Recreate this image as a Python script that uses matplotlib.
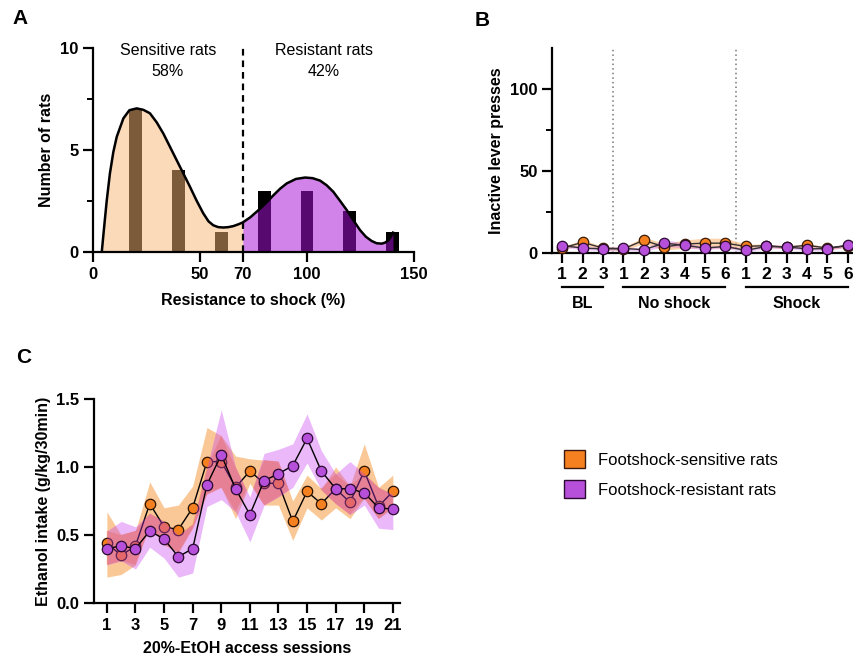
import matplotlib
matplotlib.use("Agg")
import matplotlib.pyplot as plt
from matplotlib.patches import Patch
from matplotlib.ticker import MultipleLocator

plt.rcParams['font.family'] = ['Liberation Sans', 'DejaVu Sans']

# ---- panel A data ----
binCenters = [20, 40, 60, 80, 100, 120, 140]
binCounts = [7, 4, 1, 3, 3, 2, 1]
curveX = [4.1, 5, 6.4, 7.9, 9.5, 11.1, 14.2, 17, 20.4, 23.5, 26.6, 29.8, 32.9, 36, 39.1,
          42.2, 45.3, 48.4, 51.5, 54, 56.2, 58.5, 60.9, 63.3, 65.6, 68, 70, 73.5, 77.3,
          80.8, 84.3, 87.4, 90.5, 94.8, 99.1, 102.6, 106.1, 109.2, 112.3, 115.5, 118.6,
          121.7, 124.8, 127.5, 130.2, 132.5, 134.9, 136.5, 138, 139.2, 140.2]
curveY = [0, 1.0, 2.5, 3.85, 4.9, 5.65, 6.55, 6.95, 7.04, 6.97, 6.8, 6.35, 5.8, 5.15, 4.5,
          3.85, 3.2, 2.52, 1.9, 1.5, 1.31, 1.22, 1.2, 1.22, 1.27, 1.36, 1.45, 1.7, 2.05,
          2.4, 2.78, 3.1, 3.36, 3.58, 3.65, 3.62, 3.5, 3.27, 2.95, 2.5, 2.05,
          1.55, 1.07, 0.75, 0.54, 0.43, 0.41, 0.46, 0.57, 0.75, 0.95]
cutoff = 70

# ---- panel B data ----
sessLabels = ['1', '2', '3', '1', '2', '3', '4', '5', '6', '1', '2', '3', '4', '5', '6']
groupNames = ['BL', 'No shock', 'Shock']
groupSpans = [(1, 3), (4, 9), (10, 15)]
inactSens = [3, 6.5, 3, 2.5, 7.8, 3.7, 5.5, 6, 6, 4, 4.5, 3.5, 4.7, 3, 4.5]
inactSensErr = [1, 1.5, 1, 1, 2, 2, 2.5, 3, 3, 1.5, 1, 1, 1, 1, 1]
inactRes = [4.5, 3, 2.5, 2.8, 2, 6, 4.7, 3, 4, 1.6, 4, 3.7, 2.5, 2.7, 4.7]
inactResErr = [1, 1, 1, 1, 1, 2, 1.5, 1, 1, 1, 1, 1, 1, 1, 1]

# ---- panel C data ----
sessions = list(range(1, 22))
sensMean = [0.44, 0.35, 0.42, 0.73, 0.56, 0.54, 0.70, 1.04, 1.04, 0.85, 0.97,
            0.88, 0.88, 0.60, 0.82, 0.73, 0.84, 0.74, 0.97, 0.71, 0.82]
sensUp = [0.67, 0.50, 0.53, 0.89, 0.70, 0.72, 0.86, 1.29, 1.23, 1.08, 1.06,
          1.05, 1.04, 0.75, 0.94, 0.84, 1.00, 0.86, 1.17, 0.85, 0.94]
sensLow = [0.19, 0.21, 0.28, 0.57, 0.43, 0.37, 0.55, 0.80, 0.85, 0.62, 0.88,
           0.72, 0.72, 0.46, 0.70, 0.61, 0.70, 0.62, 0.77, 0.62, 0.70]
resMean = [0.40, 0.42, 0.40, 0.53, 0.47, 0.34, 0.40, 0.87, 1.09, 0.84, 0.65,
           0.90, 0.95, 1.01, 1.21, 0.97, 0.84, 0.84, 0.81, 0.70, 0.69]
resUp = [0.53, 0.60, 0.56, 0.66, 0.60, 0.50, 0.58, 1.00, 1.42, 1.00, 0.78,
         1.10, 1.13, 1.17, 1.39, 1.12, 0.95, 1.04, 0.95, 0.85, 0.80]
resLow = [0.28, 0.31, 0.25, 0.41, 0.33, 0.19, 0.22, 0.71, 0.76, 0.67, 0.45,
          0.72, 0.78, 0.85, 1.03, 0.83, 0.73, 0.65, 0.72, 0.55, 0.54]

orange = '#F5801F'
purple = '#B64FDA'

def styleAxes(ax):
    for s in ['top', 'right']:
        ax.spines[s].set_visible(False)
    for s in ['left', 'bottom']:
        ax.spines[s].set_linewidth(1.6)
    ax.tick_params(width=1.6, length=7, labelsize=12, direction='out')
    ax.tick_params(which='minor', width=1.4, length=4)
    for lab in ax.get_xticklabels() + ax.get_yticklabels():
        lab.set_fontweight('bold')

fig = plt.figure(figsize=(8.54, 6.59), dpi=100)

# ================= A =================
axA = fig.add_axes([93/854, 1-252/659, 321/854, 204/659])
axA.bar(binCenters, binCounts, width=6, color='black', zorder=1)
sx = [x for x in curveX if x <= cutoff]
sy = curveY[:len(sx)]
rx = [x for x in curveX if x >= cutoff]
ry = curveY[len(curveX)-len(rx):]
axA.fill_between(sx, 0, sy, color='#F8B676', alpha=0.5, lw=0, zorder=2)
axA.fill_between(rx, 0, ry, color='#A812D8', alpha=0.52, lw=0, zorder=2)
axA.plot(curveX, curveY, color='black', lw=1.8, zorder=3)
axA.plot([cutoff, cutoff], [0, 10], color='black', lw=1.6, ls=(0, (3, 2.2)), zorder=4)
axA.set_xlim(0, 150)
axA.set_ylim(0, 10)
axA.set_xticks([0, 50, 70, 100, 150])
axA.set_yticks([0, 5, 10])
axA.yaxis.set_minor_locator(MultipleLocator(2.5))
axA.text(35, 9.35, 'Sensitive rats\n58%', ha='center', va='center', fontsize=11.5, linespacing=1.5)
axA.text(108, 9.35, 'Resistant rats\n42%', ha='center', va='center', fontsize=11.5, linespacing=1.5)
axA.set_xlabel('Resistance to shock (%)', fontsize=11.5, fontweight='bold', labelpad=8)
axA.set_ylabel('Number of rats', fontsize=11.5, fontweight='bold', labelpad=4)
styleAxes(axA)

# ================= B =================
axB = fig.add_axes([552/854, 1-253/659, 304/854, 205/659])
xB = list(range(1, 16))
axB.fill_between(xB, [m - e for m, e in zip(inactSens, inactSensErr)],
                 [m + e for m, e in zip(inactSens, inactSensErr)], color='#F8B676', alpha=0.6, lw=0, zorder=1)
axB.fill_between(xB, [m - e for m, e in zip(inactRes, inactResErr)],
                 [m + e for m, e in zip(inactRes, inactResErr)], color='#C83CF0', alpha=0.3, lw=0, zorder=1)
axB.plot(xB, inactSens, color='#333333', lw=1.0, marker='o', ms=7.5, mfc=orange, mec='#3a1a00',
         mew=0.9, zorder=3, clip_on=False)
axB.plot(xB, inactRes, color='#333333', lw=1.0, marker='o', ms=7.5, mfc=purple, mec='#2a0a30',
         mew=0.9, zorder=4, clip_on=False)
axB.axvline(3.5, color='#777777', lw=1.1, ls=(0, (1, 2)), zorder=0)
axB.axvline(9.5, color='#777777', lw=1.1, ls=(0, (1, 2)), zorder=0)
axB.set_xlim(0.5, 15.4)
axB.set_ylim(0, 125)
axB.set_yticks([0, 50, 100])
axB.set_yticks([25, 75], minor=True)
axB.set_xticks(xB)
axB.set_xticklabels(sessLabels)
axB.set_ylabel('Inactive lever presses', fontsize=11.5, fontweight='bold', labelpad=4)
styleAxes(axB)
axB.tick_params(axis='x', labelsize=12.5, pad=3)
trans = axB.get_xaxis_transform()
for name, (a, b) in zip(groupNames, groupSpans):
    axB.plot([a, b], [-0.168, -0.168], color='black', lw=1.6, transform=trans, clip_on=False)
    axB.text((a + b) / 2, -0.245, name, transform=trans, ha='center', va='center',
             fontsize=11.5, fontweight='bold')

# ================= C =================
axC = fig.add_axes([94/854, 56/659, 306/854, 204/659])
axC.fill_between(sessions, sensLow, sensUp, color='#FAC896', lw=0, zorder=1)
# overlap of the two SEM bands, tinted so it reads red-pink under the purple band
ovLow = [max(a, b) for a, b in zip(sensLow, resLow)]
ovUp = [min(a, b) for a, b in zip(sensUp, resUp)]
axC.fill_between(sessions, ovLow, ovUp, where=[u > l for u, l in zip(ovUp, ovLow)],
                 interpolate=True, color='#F7A963', lw=0, zorder=1.5)
axC.plot(sessions, sensMean, color='black', lw=1.0, marker='o', ms=7.5, mfc=orange,
         mec='#2a1200', mew=0.9, zorder=2)
axC.fill_between(sessions, resLow, resUp, color='#C83CF0', alpha=0.36, lw=0, zorder=3)
axC.plot(sessions, resMean, color='black', lw=1.0, marker='o', ms=7.5, mfc=purple,
         mec='#2a0a30', mew=0.9, zorder=4)
axC.set_xlim(0.1, 21.5)
axC.set_ylim(0, 1.5)
axC.set_xticks(list(range(1, 22, 2)))
axC.set_yticks([0, 0.5, 1.0, 1.5])
axC.yaxis.set_major_formatter(plt.FormatStrFormatter('%.1f'))
axC.set_xlabel('20%-EtOH access sessions', fontsize=11.5, fontweight='bold', labelpad=6)
axC.set_ylabel('Ethanol intake (g/kg/30min)', fontsize=11.5, fontweight='bold', labelpad=4)
styleAxes(axC)

handles = [Patch(facecolor=orange, edgecolor='#3a1a10', lw=1.0),
           Patch(facecolor=purple, edgecolor='#2a0a30', lw=1.0)]
fig.legend(handles, ['Footshock-sensitive rats', 'Footshock-resistant rats'],
           loc='center left', bbox_to_anchor=(549/854, 1-474/659), frameon=False,
           fontsize=12, handlelength=1.25, handleheight=1.25, handletextpad=0.8,
           labelspacing=0.75)

# panel letters
fig.text(12/854, 1-18/659, 'A', fontsize=15, fontweight='bold', va='center')
fig.text(475/854, 1-20/659, 'B', fontsize=15, fontweight='bold', va='center')
fig.text(16/854, 1-358/659, 'C', fontsize=15, fontweight='bold', va='center')

fig.savefig('out.png', dpi=100)
